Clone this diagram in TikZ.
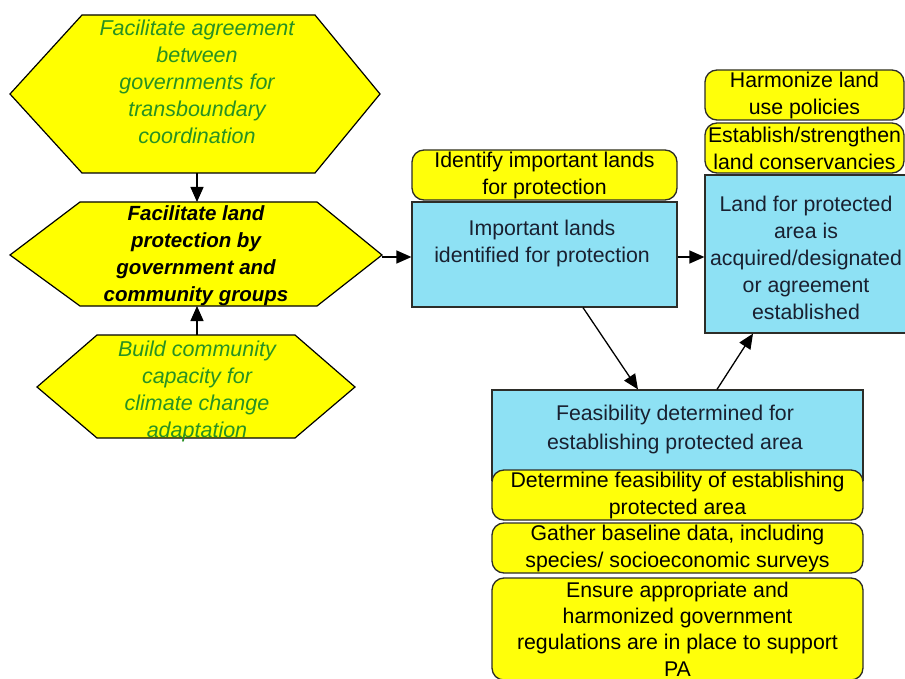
\documentclass[tikz,border=0pt]{standalone}
\usepackage{fontspec}
\setmainfont{Liberation Sans}
\usetikzlibrary{arrows.meta}
\definecolor{hexyellow}{RGB}{255,255,0}
\definecolor{boxyellow}{RGB}{255,255,10}
\definecolor{resultblue}{RGB}{142,225,244}
\definecolor{stratgreen}{RGB}{40,145,35}
\definecolor{resulttext}{RGB}{25,32,48}
\definecolor{edgegray}{RGB}{45,45,40}
\tikzset{
  hexpath/.style={draw=black, line width=1.2pt, fill=hexyellow},
  hexgreen/.style={align=center, text=stratgreen, font=\fontsize{21.5}{27}\selectfont\itshape, inner sep=0pt},
  hexmain/.style={align=center, text=black, font=\fontsize{20.5}{27}\selectfont\bfseries\itshape, inner sep=0pt},
  resultbox/.style={draw=edgegray, line width=1.2pt, fill=resultblue, inner sep=0pt},
  resulttxt/.style={align=center, text=resulttext, font=\fontsize{21.3}{27}\selectfont, inner sep=0pt},
  actionbox/.style={draw=edgegray, line width=1.3pt, fill=boxyellow, rounded corners=12pt,
    align=center, text=black, font=\fontsize{21.3}{27}\selectfont, inner sep=0pt},
  flow/.style={draw=black, line width=1.3pt, -{Triangle[length=15pt,width=13pt]}}
}
\begin{document}
\begin{tikzpicture}[x=1pt,y=-1pt]
\useasboundingbox (0,0) rectangle (905,679);
\clip (0,0) rectangle (905,679);
\fill[white] (0,0) rectangle (905,679);

% strategy hexagons
\draw[hexpath] (10,94) -- (82,15) -- (315,15) -- (380,94) -- (315,173) -- (82,173) -- cycle;
\node[hexgreen] (agree) at (197,82) {Facilitate agreement\\between\\governments for\\transboundary\\coordination};
\coordinate (agreeS) at (197,173);

\draw[hexpath] (10,255) -- (80,202) -- (317,202) -- (382,255) -- (317,306) -- (80,306) -- cycle;
\node[hexmain] (landprot) at (196,256) {Facilitate land\\protection by\\government and\\community groups};
\coordinate (landN) at (197,202);
\coordinate (landS) at (197,306);
\coordinate (landE) at (382,257);

\draw[hexpath] (37,387) -- (97,335) -- (295,335) -- (355,387) -- (295,438) -- (97,438) -- cycle;
\node[hexgreen] (capacity) at (197,391) {Build community\\capacity for\\climate change\\adaptation};
\coordinate (capN) at (197,335);

% important lands
\node[resultbox, minimum width=265pt, minimum height=105pt] (identbox) at (544.5,254.5) {};
\node[resulttxt] (identtxt) at (542,243.5) {Important lands\\identified for protection};
\node[actionbox, minimum width=265pt, minimum height=50pt] (identact) at (544.5,175) {Identify important lands\\for protection};

% land acquired
\node[resultbox, minimum width=203pt, minimum height=158pt] (acqbox) at (806.5,254) {};
\node[resulttxt] (acqtxt) at (806,258) {Land for protected\\area is\\acquired/designated\\or agreement\\established};
\node[actionbox, minimum width=199pt, minimum height=50pt] (harmact) at (804.5,95) {Harmonize land\\use policies};
\node[actionbox, minimum width=199pt, minimum height=50pt] (consact) at (804.5,148) {Establish/strengthen\\land conservancies};

% feasibility
\node[resultbox, minimum width=371pt, minimum height=90pt] (feasbox) at (677.5,435) {};
\node[resulttxt, font=\fontsize{21.3}{29}\selectfont] (feastxt) at (675,429.5) {Feasibility determined for\\establishing protected area};
\node[actionbox, minimum width=371pt, minimum height=50pt] (feasact) at (677.5,495) {Determine feasibility of establishing\\protected area};
\node[actionbox, minimum width=371pt, minimum height=50pt] (baseact) at (677.5,548) {Gather baseline data, including\\species/ socioeconomic surveys};
\node[actionbox, minimum width=371pt, minimum height=102pt, font=\fontsize{21.3}{26.3}\selectfont] (regact) at (677.5,629) {Ensure appropriate and\\harmonized government\\regulations are in place to support\\PA};

% connectors
\draw[flow] (agreeS) -- (landN);
\draw[flow] (capN) -- (landS);
\draw[flow] (landE) -- (landE -| identbox.west);
\draw[flow] (identbox.east |- landE) -- (acqbox.west |- landE);
\draw[flow] (identbox.south -| 583,0) -- (feasbox.north -| 638,0);
\draw[flow] (feasbox.north -| 717,0) -- (acqbox.south -| 753,0);
\end{tikzpicture}
\end{document}
